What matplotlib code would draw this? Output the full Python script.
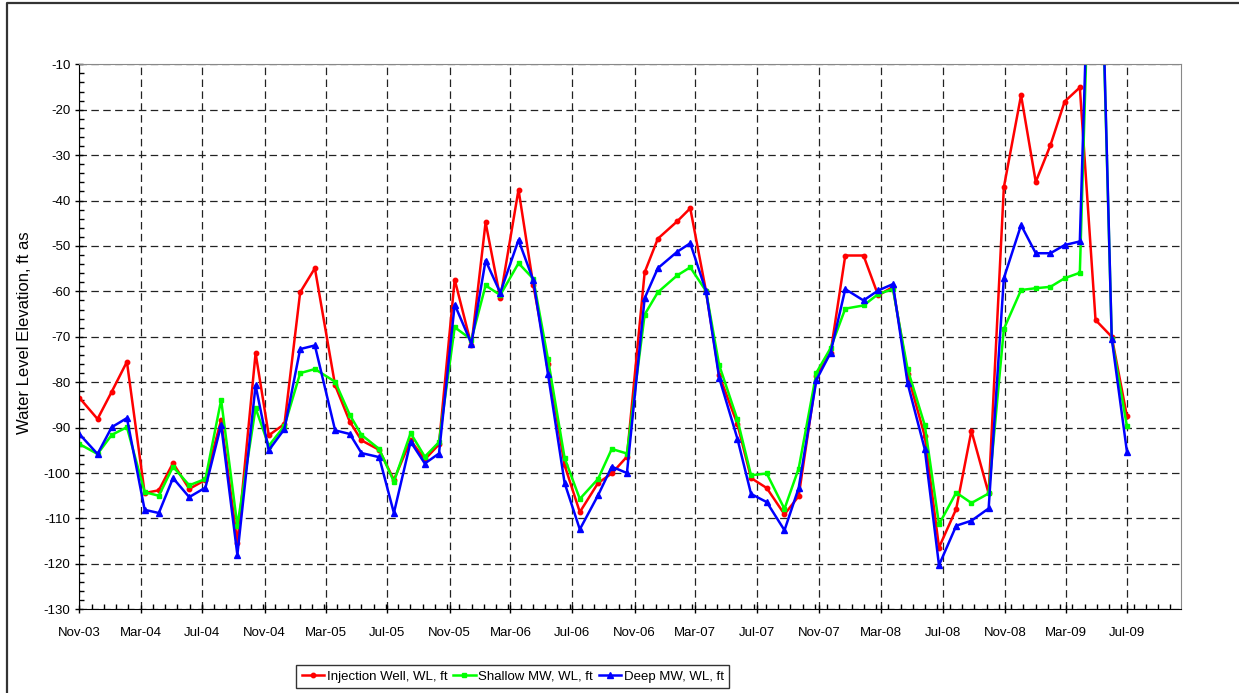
import matplotlib
matplotlib.use("Agg")
import matplotlib.pyplot as plt
import matplotlib.dates as mdates
from matplotlib.ticker import MultipleLocator, AutoMinorLocator
from matplotlib.lines import Line2D
import pandas as pd

plt.rcParams['font.family'] = ['Liberation Sans', 'DejaVu Sans']
plt.rcParams['axes.unicode_minus'] = False

# sample dates
dates = ['2003-11-01', '2003-12-07', '2004-01-04', '2004-02-03', '2004-03-09', '2004-04-06',
         '2004-05-04', '2004-06-05', '2004-07-07', '2004-08-07', '2004-09-08', '2004-10-14',
         '2004-11-09', '2004-12-10', '2005-01-10', '2005-02-08', '2005-03-20', '2005-04-18',
         '2005-05-11', '2005-06-15', '2005-07-14', '2005-08-16', '2005-09-13', '2005-10-11',
         '2005-11-11', '2005-12-14', '2006-01-11', '2006-02-09', '2006-03-17', '2006-04-15',
         '2006-05-14', '2006-06-16', '2006-07-16', '2006-08-21', '2006-09-17', '2006-10-17',
         '2006-11-21', '2006-12-17', '2007-01-24', '2007-02-19', '2007-03-22', '2007-04-17',
         '2007-05-23', '2007-06-19', '2007-07-20', '2007-08-24', '2007-09-21', '2007-10-26',
         '2007-11-23', '2007-12-22', '2008-01-27', '2008-02-25', '2008-03-25', '2008-04-23',
         '2008-05-27', '2008-06-24', '2008-07-28', '2008-08-27', '2008-09-30', '2008-10-30',
         '2008-12-03', '2009-01-01', '2009-01-30', '2009-02-27', '2009-03-29', '2009-04-29',
         '2009-05-31', '2009-06-30']

injection = [-83.4, -88.1, -82.1, -75.5, -104.4, -103.8, -97.8, -103.5, -101.5, -88.3, -115.4, -73.6,
             -91.7, -89.2, -60.2, -54.9, -80.7, -88.7, -92.8, -94.9, -101.5, -92.8, -97.0, -93.7,
             -57.4, -71.9, -44.8, -61.5, -37.6, -58.5, -75.9, -98.3, -108.6, -102.2, -100.1, -96.4,
             -55.8, -48.4, -44.6, -41.7, -59.9, -78.4, -89.2, -101.1, -103.3, -109.1, -105.1, -78.7,
             -73.5, -52.1, -52.1, -60.9, -59.0, -78.2, -91.9, -116.4, -107.9, -90.7, -104.5, -37.1,
             -16.8, -35.9, -27.8, -18.2, -15.1, -66.3, -70.0, -87.5]

shallow = [-93.6, -95.8, -91.6, -89.9, -104.2, -105.0, -98.6, -102.7, -101.3, -83.9, -111.6, -85.7,
           -94.0, -89.6, -78.0, -77.1, -79.9, -87.2, -91.6, -94.7, -101.9, -91.2, -96.4, -93.2,
           -67.9, -70.6, -58.7, -60.8, -53.8, -57.2, -74.8, -96.7, -105.7, -101.3, -94.7, -95.7,
           -65.1, -60.2, -56.5, -54.7, -59.9, -76.2, -88.2, -100.5, -100.1, -107.9, -99.0, -77.9,
           -72.5, -63.8, -63.1, -60.6, -59.5, -77.1, -89.5, -111.3, -104.3, -106.6, -104.5, -68.3,
           -59.7, -59.3, -59.0, -57.1, -55.9, 62.0, -70.4, -89.7]

deep = [-91.4, -95.8, -89.9, -87.9, -108.1, -108.8, -101.1, -105.3, -103.2, -89.4, -118.0, -80.7,
        -95.0, -90.3, -72.7, -71.9, -90.6, -91.4, -95.6, -96.5, -108.8, -93.1, -97.9, -95.7,
        -62.9, -71.5, -53.2, -60.3, -48.7, -57.5, -78.1, -102.2, -112.4, -104.9, -98.6, -100.0,
        -61.5, -54.9, -51.3, -49.4, -59.9, -79.0, -92.4, -104.6, -106.4, -112.6, -103.3, -79.5,
        -73.5, -59.5, -62.0, -59.8, -58.4, -80.2, -94.8, -120.3, -111.6, -110.5, -107.8, -57.1,
        -45.4, -51.6, -51.6, -49.8, -49.0, 65.0, -70.4, -95.3]

x = pd.to_datetime(dates)

fig = plt.figure(figsize=(12.39, 6.93), dpi=100)
ax = fig.add_axes([0.0640, 0.1208, 0.8889, 0.7864])

ax.plot(x, injection, color='#FF0000', lw=1.8, marker='o', ms=3.2, label='Injection Well, WL, ft')
ax.plot(x, shallow, color='#00FF00', lw=1.8, marker='s', ms=3.4, label='Shallow MW, WL, ft')
ax.plot(x, deep, color='#0000FF', lw=1.8, marker='^', ms=4.2, label='Deep MW, WL, ft')

ax.set_ylim(-130, -10)
ax.set_xlim(pd.Timestamp('2003-11-01'), pd.Timestamp('2009-10-14'))
ax.yaxis.set_major_locator(MultipleLocator(10))
ax.yaxis.set_minor_locator(MultipleLocator(2))
ax.xaxis.set_major_locator(mdates.MonthLocator(bymonth=[3, 7, 11], bymonthday=1))
ax.xaxis.set_major_formatter(mdates.DateFormatter('%b-%y'))
ax.xaxis.set_minor_locator(AutoMinorLocator(5))

ax.grid(True, which='major', color='#222222', lw=0.9, linestyle=(0, (6, 3.5)))
ax.tick_params(which='major', direction='inout', length=6, width=1, labelsize=9.5)
ax.tick_params(axis='x', which='major', pad=10)
ax.tick_params(axis='y', which='major', pad=3.5)
ax.tick_params(which='minor', direction='in', length=3.5, width=1)

ax.spines['left'].set_color('black')
ax.spines['bottom'].set_color('black')
ax.spines['top'].set_color('#888888')
ax.spines['right'].set_color('#888888')

fig.text(0.0194, 0.5195, 'Water Level Elevation, ft as', rotation=90, ha='center', va='center',
         fontsize=12)

leg = fig.legend(loc='center', bbox_to_anchor=(0.4139, 0.0235), ncol=3, fontsize=9.5,
                 frameon=True, fancybox=False, edgecolor='black', handlelength=1.7,
                 handletextpad=0.2, columnspacing=0.45, borderpad=0.4, markerscale=1.0)
leg.get_frame().set_linewidth(1.0)

# outer chart frame (top and left edges)
fig.add_artist(Line2D([6.7 / 1239, 6.7 / 1239, 1.0], [0.0, 1 - 2.7 / 693, 1 - 2.7 / 693],
                      transform=fig.transFigure, color='#333333', lw=1.6))

fig.savefig('out.png', dpi=100)
